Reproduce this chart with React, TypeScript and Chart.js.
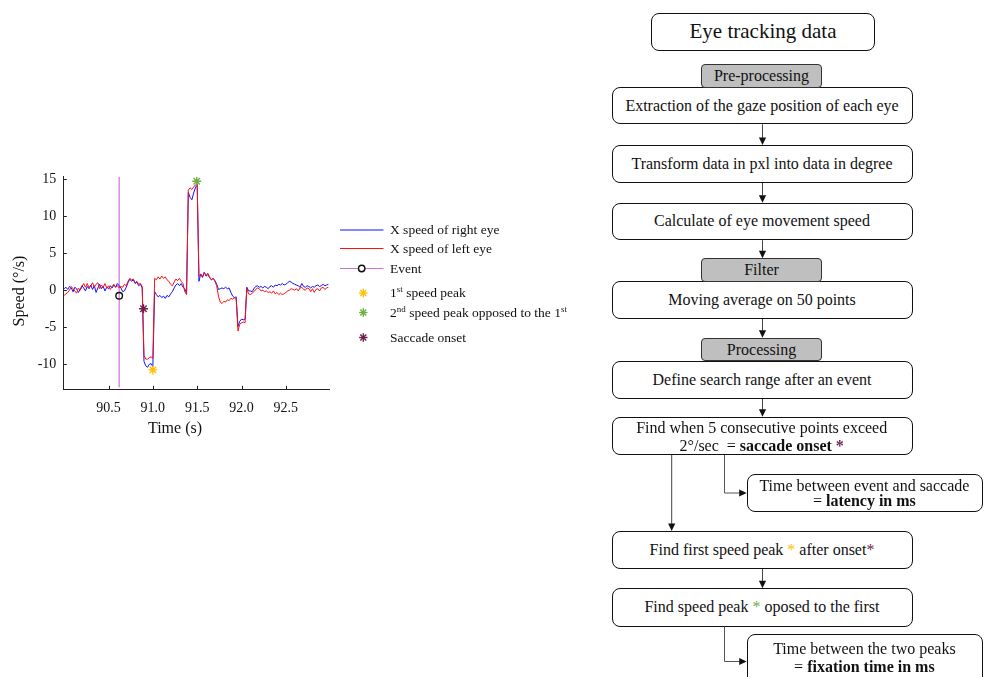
import React, { useEffect, useRef } from "react";
import { Chart, registerables } from "chart.js";

Chart.register(...registerables);

// ---------------- DATA ----------------
const TIMES = [
  90.00, 90.02, 90.04, 90.06, 90.08, 90.10, 90.12, 90.14, 90.16, 90.18,
  90.20, 90.22, 90.24, 90.26, 90.28, 90.30, 90.32, 90.34, 90.36, 90.38,
  90.40, 90.42, 90.44, 90.46, 90.48, 90.50, 90.52, 90.54, 90.56, 90.58,
  90.60, 90.62, 90.64, 90.66, 90.68, 90.70, 90.72, 90.74, 90.76, 90.78,
  90.80, 90.82, 90.84, 90.86, 90.88, 90.90, 90.92, 90.94, 90.96, 90.98,
  91.00, 91.02, 91.04, 91.06, 91.08, 91.10, 91.12, 91.14, 91.16, 91.18,
  91.20, 91.22, 91.24, 91.26, 91.28, 91.30, 91.32, 91.34, 91.36, 91.38,
  91.40, 91.42, 91.44, 91.46, 91.48, 91.50, 91.52, 91.54, 91.56, 91.58,
  91.60, 91.62, 91.64, 91.66, 91.68, 91.70, 91.72, 91.74, 91.76, 91.78,
  91.80, 91.82, 91.84, 91.86, 91.88, 91.90, 91.92, 91.94, 91.96, 91.98,
  92.00, 92.02, 92.04, 92.06, 92.08, 92.10, 92.12, 92.14, 92.16, 92.18,
  92.20, 92.22, 92.24, 92.26, 92.28, 92.30, 92.32, 92.34, 92.36, 92.38,
  92.40, 92.42, 92.44, 92.46, 92.48, 92.50, 92.52, 92.54, 92.56, 92.58,
  92.60, 92.62, 92.64, 92.66, 92.68, 92.70, 92.72, 92.74, 92.76, 92.78,
  92.80, 92.82, 92.84, 92.86, 92.88, 92.90, 92.92, 92.94, 92.96, 92.98,
];

const RIGHT_EYE_SPEED = [
  0.2, 0.4, 0.1, 0.5, 0.3, -0.2, 0.4, 0.2, -0.3, 0.1,
  0.6, 0.3, -0.1, 0.5, 0.2, 0.7, 0.1, 0.6, -0.3, 0.3,
  0.8, 0.2, 0.5, -0.1, 0.4, 0.2, 0.6, 0.3, 0.7, 0.4,
  0.9, 0.6, 0.3, -0.2, -0.1, 0.4, 1.0, 1.5, 1.2, 1.4,
  0.9, 1.1, 0.6, 0.8, 0.3, -9.6, -10.2, -10.4, -10.0, -9.9,
  -10.3, -0.2, -0.6, -0.9, -0.7, -1.0, -0.8, -1.1, -0.7, -0.9,
  -0.5, -0.2, 0.3, 0.7, 0.9, 0.6, 0.9, 0.4, 0.2, -0.4,
  13.2, 12.5, 12.2, 13.1, 13.8, 14.3, 1.2, 2.2, 1.8, 2.4,
  1.9, 2.1, 1.7, 1.4, 1.6, 1.3, 0.8, 0.1, 0.2, 0.3,
  0.2, 0.4, 0.2, 0.3, -0.3, -0.8, -1.0, -0.9, -4.9, -4.2,
  -3.9, -4.0, -3.9, 0.4, -0.1, -0.1, -0.2, 0.2, 0.5, 0.6,
  0.4, 0.5, 0.3, 0.5, 0.4, 0.2, 0.5, 0.6, 0.4, 0.7,
  0.6, 0.8, 0.7, 0.9, 0.7, 0.8, 1.0, 1.2, 1.1, 0.9,
  0.8, 0.7, 0.6, 0.4, 0.9, 0.5, 0.4, 0.6, 0.5, 0.3,
  0.5, 0.4, 0.6, 0.7, 0.5, 0.6, 0.8, 0.6, 0.7, 0.8,
];

const LEFT_EYE_SPEED = [
  -0.7, -0.5, -0.3, 0.0, 0.5, 0.2, -0.1, -0.4, 0.3, 0.0,
  0.5, 0.9, 0.4, 0.9, 0.3, 0.6, 1.0, 0.4, 0.8, 1.0,
  0.2, 0.7, 0.4, 0.9, 0.3, 0.6, 0.1, 0.5, 0.8, 0.4,
  0.6, 0.3, 0.5, 0.4, 0.8, 0.6, 1.2, 1.6, 1.4, 1.5,
  1.0, 1.2, 0.8, 0.9, 0.5, -8.8, -9.3, -9.3, -9.1, -9.0,
  -9.2, 1.6, 1.4, 1.8, 1.5, 1.9, 1.6, 1.8, 1.4, 1.2,
  0.8, 0.6, 1.1, 1.5, 1.3, 1.6, 1.2, 0.9, -0.2, -0.6,
  13.5, 13.8, 13.6, 13.9, 14.2, 14.4, 1.9, 2.1, 1.7, 2.4,
  2.0, 2.3, 1.8, 1.4, 1.6, 1.2, 0.6, -0.8, -1.6, -1.8,
  -1.5, -1.6, -1.3, -1.4, -1.1, -1.2, -1.0, -1.3, -5.5, -4.6,
  -4.4, -4.3, -4.4, 0.2, -0.5, -0.6, -0.4, -0.2, 0.1, 0.3,
  0.2, -0.1, 0.0, -0.2, -0.1, -0.3, -0.2, -0.4, -0.1, -0.5,
  -0.3, -0.6, -0.4, -0.6, -0.5, -0.3, -0.1, 0.0, 0.2, 0.1,
  0.0, 0.2, -0.1, 0.3, 0.4, 0.1, 0.0, 0.3, 0.2, -0.2,
  0.2, -0.3, 0.1, 0.2, -0.1, 0.3, 0.4, 0.1, 0.3, 0.4,
];

const EVENT_TIME = [90.62];
const EVENT_SPEED = [-0.75];
const EVENT_LINE_SPEED = [-13.1, 15.31];
const FIRST_PEAK = [{ x: 91.0, y: -10.75 }];
const SECOND_PEAK = [{ x: 91.495, y: 14.7 }];
const SACCADE_ONSET = [{ x: 90.894, y: -2.5 }];

const X_TICKS = [90.5, 91.0, 91.5, 92.0, 92.5];
const Y_TICKS = [-10, -5, 0, 5, 10, 15];
const X_RANGE = [89.99, 92.99];
const Y_RANGE = [-13.37, 15.31];

const LEGEND_LABELS = [
  "X speed of right eye",
  "X speed of left eye",
  "Event",
  "speed peak",
  "speed peak opposed to the 1",
  "Saccade onset",
];

// ---------------- STYLE ----------------
const FONT = '"Liberation Serif", "Times New Roman", serif';
const BLUE = "#1010ff";
const RED = "#ff1010";
const ORCHID = "#d070dc";
const YELLOW = "#ffc000";
const GREEN = "#70ad47";
const PURPLE = "#6e1f4e";
const AXIS = "#222";

const CW = 340;
const CH = 460;
const AREA = { left: 63.3, top: 176.7, right: 329.3, bottom: 389.3 };

function SpeedChart() {
  const ref = useRef<HTMLCanvasElement>(null);
  useEffect(() => {
    const canvas = ref.current;
    if (!canvas) return;
    const decor = {
      id: "decor",
      afterDraw(chart: any) {
        const { ctx, scales, chartArea } = chart;
        const x = scales.x;
        const y = scales.y;
        ctx.save();
        ctx.strokeStyle = AXIS;
        ctx.lineWidth = 1;
        ctx.beginPath();
        x.ticks.forEach((t: any) => {
          const px = Math.round(x.getPixelForValue(t.value)) + 0.5;
          ctx.moveTo(px, chartArea.bottom);
          ctx.lineTo(px, chartArea.bottom - 3.5);
        });
        y.ticks.forEach((t: any) => {
          const py = Math.round(y.getPixelForValue(t.value)) + 0.5;
          ctx.moveTo(chartArea.left, py);
          ctx.lineTo(chartArea.left + 3.5, py);
        });
        ctx.stroke();
        ctx.fillStyle = "#111";
        ctx.font = `16px ${FONT}`;
        ctx.textAlign = "center";
        ctx.textBaseline = "middle";
        ctx.fillText("Time (s)", 175, 429);
        ctx.translate(20, 291);
        ctx.rotate(-Math.PI / 2);
        ctx.fillText("Speed (°/s)", 0, 0);
        ctx.restore();
      },
    };
    const chart = new Chart(canvas, {
      type: "scatter",
      data: {
        datasets: [
          {
            label: LEGEND_LABELS[0],
            data: TIMES.map((t, i) => ({ x: t, y: RIGHT_EYE_SPEED[i] })),
            showLine: true,
            borderColor: BLUE,
            borderWidth: 1,
            pointRadius: 0,
            order: 3,
          },
          {
            label: LEGEND_LABELS[1],
            data: TIMES.map((t, i) => ({ x: t, y: LEFT_EYE_SPEED[i] })),
            showLine: true,
            borderColor: RED,
            borderWidth: 1,
            pointRadius: 0,
            order: 2,
          },
          {
            label: LEGEND_LABELS[2] + " line",
            data: EVENT_LINE_SPEED.map((v) => ({ x: EVENT_TIME[0], y: v })),
            showLine: true,
            borderColor: ORCHID,
            borderWidth: 1.2,
            pointRadius: 0,
            order: 4,
          },
          {
            label: LEGEND_LABELS[2],
            data: EVENT_TIME.map((t, i) => ({ x: t, y: EVENT_SPEED[i] })),
            pointStyle: "circle",
            pointRadius: 3.3,
            borderColor: "#111",
            borderWidth: 1.4,
            backgroundColor: "rgba(0,0,0,0)",
            order: 1,
          },
          {
            label: LEGEND_LABELS[3],
            data: FIRST_PEAK,
            pointStyle: "star",
            pointRadius: 4.5,
            borderColor: YELLOW,
            borderWidth: 1.4,
            order: 0,
          },
          {
            label: LEGEND_LABELS[4],
            data: SECOND_PEAK,
            pointStyle: "star",
            pointRadius: 4.5,
            borderColor: GREEN,
            borderWidth: 1.4,
            order: 0,
          },
          {
            label: LEGEND_LABELS[5],
            data: SACCADE_ONSET,
            pointStyle: "star",
            pointRadius: 4.5,
            borderColor: PURPLE,
            borderWidth: 1.4,
            order: 0,
          },
        ],
      },
      options: {
        responsive: false,
        animation: false,
        events: [],
        layout: { padding: { left: 0, top: AREA.top, right: CW - AREA.right, bottom: 0 } },
        plugins: { legend: { display: false }, tooltip: { enabled: false } },
        scales: {
          x: {
            type: "linear",
            min: X_RANGE[0],
            max: X_RANGE[1],
            grid: { display: false, drawTicks: false },
            border: { display: true, color: AXIS, width: 1 },
            ticks: {
              color: "#111",
              font: { family: FONT, size: 14 },
              padding: 11,
              maxRotation: 0,
              autoSkip: false,
              callback: (v: any) => Number(v).toFixed(1),
            },
            afterBuildTicks: (s: any) => {
              s.ticks = X_TICKS.map((v) => ({ value: v }));
            },
            afterFit: (s: any) => {
              s.height = CH - AREA.bottom;
            },
          },
          y: {
            type: "linear",
            min: Y_RANGE[0],
            max: Y_RANGE[1],
            grid: { display: false, drawTicks: false },
            border: { display: true, color: AXIS, width: 1 },
            ticks: {
              color: "#111",
              font: { family: FONT, size: 14 },
              padding: 7,
              autoSkip: false,
              callback: (v: any) => String(v),
            },
            afterBuildTicks: (s: any) => {
              s.ticks = Y_TICKS.map((v) => ({ value: v }));
            },
            afterFit: (s: any) => {
              s.width = AREA.left;
            },
          },
        },
      } as any,
      plugins: [decor],
    });
    return () => chart.destroy();
  }, []);
  return (
    <canvas
      ref={ref}
      width={CW}
      height={CH}
      style={{ position: "absolute", left: 0, top: 0, width: CW, height: CH }}
    />
  );
}

function Star({ cx, cy, r, color }: { cx: number; cy: number; r: number; color: string }) {
  const d = r * 0.7071;
  return (
    <g stroke={color} strokeWidth={1.4}>
      <line x1={cx - r} y1={cy} x2={cx + r} y2={cy} />
      <line x1={cx} y1={cy - r} x2={cx} y2={cy + r} />
      <line x1={cx - d} y1={cy - d} x2={cx + d} y2={cy + d} />
      <line x1={cx - d} y1={cy + d} x2={cx + d} y2={cy - d} />
    </g>
  );
}

function Legend() {
  const ys = [230, 248.5, 268.5, 293, 312.5, 337.5];
  const sup: React.CSSProperties = { fontSize: 9, verticalAlign: "top", lineHeight: "10px", position: "relative", top: -1 };
  const texts: React.ReactNode[] = [
    LEGEND_LABELS[0],
    LEGEND_LABELS[1],
    LEGEND_LABELS[2],
    <>1<span style={sup}>st</span> {LEGEND_LABELS[3]}</>,
    <>2<span style={sup}>nd</span> {LEGEND_LABELS[4]}<span style={sup}>st</span></>,
    LEGEND_LABELS[5],
  ];
  return (
    <>
      <svg width={988} height={677} style={{ position: "absolute", left: 0, top: 0 }}>
        <line x1={340} y1={ys[0]} x2={383.5} y2={ys[0]} stroke={BLUE} strokeWidth={1.1} />
        <line x1={340} y1={ys[1]} x2={383.5} y2={ys[1]} stroke={RED} strokeWidth={1.1} />
        <line x1={340} y1={ys[2]} x2={383.5} y2={ys[2]} stroke={ORCHID} strokeWidth={1.1} />
        <circle cx={361.7} cy={ys[2]} r={3.2} fill="#fff" stroke="#111" strokeWidth={1.4} />
        <Star cx={363.3} cy={ys[3]} r={4.2} color={YELLOW} />
        <Star cx={363.3} cy={ys[4]} r={4.2} color={GREEN} />
        <Star cx={363.3} cy={ys[5]} r={4.2} color={PURPLE} />
      </svg>
      {texts.map((t, i) => (
        <div
          key={i}
          style={{
            position: "absolute",
            left: 390,
            top: ys[i] - 8,
            height: 16,
            lineHeight: "16px",
            fontSize: 13.5,
            whiteSpace: "nowrap",
            color: "#111",
          }}
        >
          {t}
        </div>
      ))}
    </>
  );
}

type LineSpec = { cy: number; content: React.ReactNode };

function Box(props: {
  x: number;
  y: number;
  w: number;
  h: number;
  gray?: boolean;
  fontSize?: number;
  text?: React.ReactNode;
  lines?: LineSpec[];
}) {
  const { x, y, w, h, gray, fontSize = 16, text, lines } = props;
  return (
    <div
      style={{
        position: "absolute",
        left: x,
        top: y,
        width: w,
        height: h,
        boxSizing: "border-box",
        border: gray ? "1.3px solid #333" : "1.3px solid #111",
        borderRadius: gray ? 4 : 8,
        background: gray ? "#bfbfbf" : "#fff",
        fontSize,
        color: "#111",
        display: "flex",
        alignItems: "center",
        justifyContent: "center",
        whiteSpace: "nowrap",
        lineHeight: 1,
      }}
    >
      {text}
      {lines &&
        lines.map((l, i) => (
          <div
            key={i}
            style={{
              position: "absolute",
              left: 0,
              width: w - 2.6,
              top: l.cy - y - 9 - 1.3,
              height: 18,
              lineHeight: "18px",
              textAlign: "center",
            }}
          >
            {l.content}
          </div>
        ))}
    </div>
  );
}

function VArrow({ x, y1, y2 }: { x: number; y1: number; y2: number }) {
  return (
    <g>
      <line x1={x} y1={y1} x2={x} y2={y2 - 7} stroke="#444" strokeWidth={1} />
      <polygon points={`${x - 3.6},${y2 - 7.5} ${x + 3.6},${y2 - 7.5} ${x},${y2}`} fill="#111" />
    </g>
  );
}

function ElbowArrow({ x, y1, y2, x2 }: { x: number; y1: number; y2: number; x2: number }) {
  return (
    <g>
      <polyline points={`${x},${y1} ${x},${y2} ${x2 - 7},${y2}`} fill="none" stroke="#555" strokeWidth={1} />
      <polygon points={`${x2 - 7.5},${y2 - 3.6} ${x2 - 7.5},${y2 + 3.6} ${x2},${y2}`} fill="#111" />
    </g>
  );
}

function Flowchart() {
  const MX = 611.5;
  const MW = 301;
  const SX = 746.7;
  const SW = 236;
  const GX = 701;
  const GW = 121;
  const cx = 762.5;
  return (
    <>
      <Box x={651} y={12.7} w={224} h={38} fontSize={21} text="Eye tracking data" />
      <Box x={MX} y={87.3} w={MW} h={37} text="Extraction of the gaze position of each eye" />
      <Box x={GX} y={64.3} w={GW} h={23.5} gray text="Pre-processing" />
      <Box x={MX} y={145} w={MW} h={38} text="Transform data in pxl into data in degree" />
      <Box x={MX} y={202.7} w={MW} h={37.5} text="Calculate of eye movement speed" />
      <Box x={MX} y={280.7} w={MW} h={38.3} text="Moving average on 50 points" />
      <Box x={GX} y={258.3} w={GW} h={23.5} gray text="Filter" />
      <Box x={MX} y={360.7} w={MW} h={38.3} text="Define search range after an event" />
      <Box x={GX} y={337.7} w={GW} h={23.8} gray text="Processing" />
      <Box
        x={MX}
        y={416.7}
        w={MW}
        h={38.3}
        lines={[
          { cy: 428.3, content: "Find when 5 consecutive points exceed" },
          {
            cy: 446,
            content: (
              <>
                2°/sec{"\u00a0"} = <b>saccade onset</b> <b style={{ color: PURPLE }}>*</b>
              </>
            ),
          },
        ]}
      />
      <Box
        x={SX}
        y={474}
        w={SW}
        h={38}
        lines={[
          { cy: 486, content: "Time between event and saccade" },
          {
            cy: 501,
            content: (
              <>
                = <b>latency in ms</b>
              </>
            ),
          },
        ]}
      />
      <Box
        x={MX}
        y={531}
        w={MW}
        h={38}
        text={
          <>
            Find first speed peak <span style={{ color: YELLOW }}>&nbsp;*&nbsp;</span> after onset
            <span style={{ color: PURPLE }}>*</span>
          </>
        }
      />
      <Box
        x={MX}
        y={588.3}
        w={MW}
        h={38.3}
        text={
          <>
            Find speed peak <span style={{ color: GREEN }}>&nbsp;*&nbsp;</span> oposed to the first
          </>
        }
      />
      <Box
        x={SX}
        y={634}
        w={SW}
        h={52}
        lines={[
          { cy: 649.5, content: "Time between the two peaks" },
          {
            cy: 667.5,
            content: (
              <>
                = <b>fixation time in ms</b>
              </>
            ),
          },
        ]}
      />
      <svg width={988} height={677} style={{ position: "absolute", left: 0, top: 0, pointerEvents: "none" }}>
        <VArrow x={cx} y1={124.3} y2={145} />
        <VArrow x={cx} y1={183} y2={202.7} />
        <VArrow x={cx} y1={240.2} y2={258.3} />
        <VArrow x={cx} y1={319} y2={337.7} />
        <VArrow x={cx} y1={399} y2={416.7} />
        <VArrow x={cx} y1={569} y2={588.3} />
        <VArrow x={671.7} y1={455} y2={531} />
        <ElbowArrow x={724.5} y1={455} y2={493} x2={SX} />
        <ElbowArrow x={724.5} y1={626.6} y2={661.5} x2={SX} />
      </svg>
    </>
  );
}

export default function App() {
  return (
    <div
      style={{
        position: "fixed",
        left: 0,
        top: 0,
        width: 988,
        height: 677,
        overflow: "hidden",
        background: "#fff",
        fontFamily: FONT,
        color: "#111",
      }}
    >
      <SpeedChart />
      <Legend />
      <Flowchart />
    </div>
  );
}
